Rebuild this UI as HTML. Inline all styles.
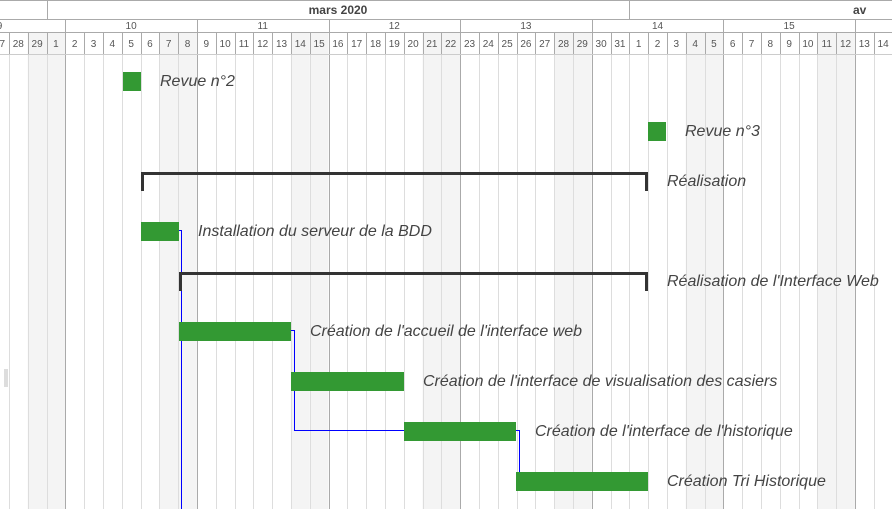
<!DOCTYPE html>
<html><head><meta charset="utf-8"><style>
html,body{margin:0;padding:0;background:#fff;overflow:hidden}
svg{display:block}
.t{font-family:"Liberation Sans",sans-serif;font-style:italic;font-size:16px;fill:#444}
.h{font-family:"Liberation Sans",sans-serif;font-size:10px;fill:#555}
</style></head><body>
<svg id="s" width="892" height="509" xmlns="http://www.w3.org/2000/svg">
<g id="grid"></g>
<g id="hdr"></g>
<line x1="0" y1="0.5" x2="892" y2="0.5" stroke="#aaa"/>
<line x1="0" y1="19.5" x2="892" y2="19.5" stroke="#aaa"/>
<line x1="0" y1="32.5" x2="892" y2="32.5" stroke="#aaa"/>
<line x1="0" y1="54.5" x2="892" y2="54.5" stroke="#ccc"/>
<line x1="47.5" y1="0" x2="47.5" y2="19" stroke="#aaa"/>
<line x1="629.5" y1="0" x2="629.5" y2="19" stroke="#aaa"/>
<text x="338" y="14" font-family="Liberation Sans,sans-serif" font-weight="bold" font-size="12" fill="#444" text-anchor="middle">mars 2020</text>
<text x="853" y="14" font-family="Liberation Sans,sans-serif" font-weight="bold" font-size="12" fill="#444">av</text>
<rect x="4" y="369" width="4" height="18" fill="#ddd"/>

<polyline points="179,230.5 181.5,230.5 181.5,509" fill="none" stroke="#00f" stroke-width="1"/>
<polyline points="291,330.5 294.5,330.5 294.5,430.5 404,430.5" fill="none" stroke="#00f" stroke-width="1"/>
<polyline points="516,430.5 519.5,430.5 519.5,472" fill="none" stroke="#00f" stroke-width="1"/>

<rect x="123" y="72" width="18" height="19" fill="#339933"/>
<text class="t" x="160" y="86">Revue n°2</text>
<rect x="648" y="122" width="18" height="19" fill="#339933"/>
<text class="t" x="685" y="136">Revue n°3</text>

<path d="M141,191 V172 H648 V191 H645 V175 H144 V191 Z" fill="#333"/>
<text class="t" x="667" y="186">Réalisation</text>

<rect x="141" y="222" width="38" height="19" fill="#339933"/>
<text class="t" x="198" y="236">Installation du serveur de la BDD</text>

<path d="M179,291 V272 H648 V291 H645 V275 H182 V291 Z" fill="#333"/>
<text class="t" x="667" y="286">Réalisation de l'Interface Web</text>

<rect x="179" y="322" width="112" height="19" fill="#339933"/>
<text class="t" x="310" y="336">Création de l'accueil de l'interface web</text>
<rect x="291" y="372" width="113" height="19" fill="#339933"/>
<text class="t" x="423" y="386">Création de l'interface de visualisation des casiers</text>
<rect x="404" y="422" width="112" height="19" fill="#339933"/>
<text class="t" x="535" y="436">Création de l'interface de l'historique</text>
<rect x="516" y="472" width="132" height="19" fill="#339933"/>
<text class="t" x="667" y="486">Création Tri Historique</text>
</svg>
<script>
(function(){
var ns="http://www.w3.org/2000/svg",g=document.getElementById("grid"),h=document.getElementById("hdr");
function el(p,n,a){var e=document.createElementNS(ns,n);for(var k in a)e.setAttribute(k,a[k]);p.appendChild(e);return e;}
var x0=65.3,w=18.8;
function lab(k){var d=new Date(2020,2,2+k);return d.getDate();}
for(var k=-5;k<=46;k++){
  var x=x0+w*k, m=((k%7)+7)%7;
  if(m==5||m==6) el(g,"rect",{x:x,y:33,width:w,height:476,fill:"#f4f4f4"});
}
for(var k=-5;k<=46;k++){
  var x=Math.round(x0+w*k)+0.5, m=((k%7)+7)%7;
  el(g,"line",{x1:x,y1:55,x2:x,y2:509,stroke:m==0?"#aaa":"#ddd"});
  el(h,"line",{x1:x,y1:(m==0?19:32),x2:x,y2:55,stroke:"#aaa"});
  var t=el(h,"text",{x:x0+w*k+w/2,y:47,"class":"h","text-anchor":"middle"});t.textContent=lab(k);
}
for(var wk=9;wk<=16;wk++){
  var k=(wk-10)*7; var t=el(h,"text",{x:x0+w*k+w*3.5,y:29,"class":"h","text-anchor":"middle"});t.textContent=wk;
}
})();
</script>
</body></html>
